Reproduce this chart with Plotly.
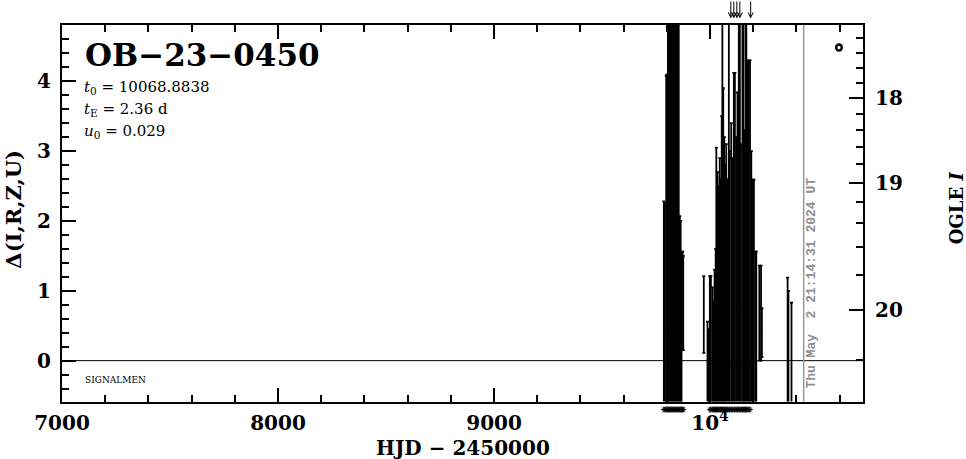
import math
import plotly.graph_objects as go

# ---------------- data ----------------
# Light-curve points: HJD-2450000, and the lower / upper ends of each error bar in Δ
season1_hjd = [9786, 9791, 9797, 9801, 9805, 9809, 9814, 9818, 9823, 9827, 9832, 9837,
               9841, 9846, 9850, 9855, 9860, 9864, 9868, 9873, 9876]
season1_top = [2.28, 2.25, 4.08, 4.10, 5.6, 5.5, 5.8, 5.4, 5.7, 5.6, 5.5, 5.9,
               5.6, 5.5, 5.7, 5.4, 2.07, 2.00, 1.56, 1.56, 1.50]
season1_bot = [-1.5, -1.4, -1.5, -1.6, -1.5, -1.7, -1.5, -1.3, -1.6, -1.4, -1.5, -1.6,
               -1.4, -1.5, -1.7, -1.5, -1.5, -1.3, -1.4, 0.15, 0.15]

season2_hjd = [9971, 9988, 9993, 9999, 10004, 10012, 10017, 10021, 10026, 10029, 10035,
               10040, 10045, 10049, 10054, 10057, 10061, 10066, 10070, 10075, 10080,
               10087, 10091, 10098, 10103, 10110, 10115, 10121, 10127, 10133, 10138,
               10143, 10150, 10154, 10159, 10164, 10168, 10175, 10180, 10185, 10191,
               10198, 10203, 10210, 10214, 10228, 10236, 10240]
season2_top = [1.21, 0.56, 0.45, 1.21, 1.21, 1.05, 0.85, 1.30, 1.60, 3.05, 2.70,
               2.50, 2.90, 2.60, 3.50, 5.50, 3.90, 3.20, 2.80, 3.10, 2.60,
               5.50, 3.00, 3.40, 2.90, 4.12, 4.12, 3.20, 3.84, 5.50, 5.60,
               3.10, 5.60, 5.50, 3.30, 5.60, 5.50, 4.30, 4.30, 4.30, 3.00,
               2.59, 2.59, 1.56, 1.56, 1.36, 1.36, 0.75]
season2_bot = [0.11, -1.5, -1.4, -1.5, -1.5, -1.5, -1.5, -1.5, -1.5, -1.5, -1.5,
               -1.5, -1.5, -1.5, -1.5, -1.5, -1.5, -1.5, -1.5, -1.5, -1.5,
               -1.5, -1.5, -1.5, -1.5, -1.5, -1.5, -1.5, -1.5, -1.5, -1.5,
               -1.5, -1.5, -1.5, -1.5, -1.5, -1.5, -1.5, -1.5, -1.5, -1.5,
               -1.5, -1.5, -1.5, -1.5, 0.00, 0.00, 0.05]

late_hjd = [10359, 10363, 10377]
late_top = [1.19, 1.00, 0.83]
late_bot = [-1.5, -1.5, -1.5]

# epochs marked with asterisks under the axis
marked_hjd = season1_hjd + [h for h in season2_hjd if 9995 < h < 10190]

# points above the plot (arrows)
arrow_hjd = [10096, 10110, 10124, 10138, 10188]

# current-time marker
now_hjd = 10433.39
now_text = "Thu May  2 21:14:31 2024 UT"

# event parameters
event_name = "OB\u221223\u22120450"
t0_val = "10068.8838"
tE_val = "2.36 d"
u0_val = "0.029"

# right-axis magnitude ticks
mag_major = [18, 19, 20]
mag_minor = [17.2, 17.4, 17.6, 17.8, 18.2, 18.4, 18.6, 18.8, 19.2, 19.4, 19.6, 19.8, 20.2]

x_tickvals = [7000, 8000, 9000, 10000]
x_ticktext = ["7000", "8000", "9000", "10<sup>4</sup>"]

X_RANGE = [7000, 10708]
Y_RANGE = [-0.585, 4.806]


def mag_to_delta(m):
    f = 10 ** (-0.4 * (m - 20.0))
    return 2.5 * math.log10(f - 0.6525) + 1.876


FONT = "DejaVu Serif"
fig = go.Figure()

for hjd, top, bot in [(season1_hjd, season1_top, season1_bot),
                      (season2_hjd, season2_top, season2_bot),
                      (late_hjd, late_top, late_bot)]:
    mid = [(a + b) / 2 for a, b in zip(top, bot)]
    err = [(a - b) / 2 for a, b in zip(top, bot)]
    fig.add_trace(go.Scatter(
        x=hjd, y=mid, mode="markers",
        marker=dict(size=1, color="black"),
        error_y=dict(type="data", array=err, visible=True, color="black",
                     thickness=1.8, width=1.5),
        showlegend=False, hoverinfo="skip"))

# asterisks in a thin strip below the axis
fig.add_trace(go.Scatter(
    x=marked_hjd, y=[0.6] * len(marked_hjd), yaxis="y4",
    mode="markers",
    marker=dict(symbol="asterisk-open", size=5, color="black",
                line=dict(color="black", width=0.8)),
    showlegend=False, hoverinfo="skip"))

# dummy traces for right axes
fig.add_trace(go.Scatter(x=[None], y=[None], yaxis="y2", showlegend=False))
fig.add_trace(go.Scatter(x=[None], y=[None], yaxis="y3", showlegend=False))

tickfont = dict(family=FONT, size=20, color="black", weight="bold")
MAIN_DOMAIN = [0.0444, 1.0]

fig.update_layout(
    width=966, height=459,
    margin=dict(l=62, r=103, t=25, b=40),
    paper_bgcolor="white", plot_bgcolor="white",
    showlegend=False,
    xaxis=dict(range=X_RANGE, tickvals=x_tickvals, ticktext=x_ticktext,
               anchor="y",
               ticks="inside", ticklen=14, tickwidth=1.5, tickcolor="black",
               minor=dict(dtick=200, tick0=7000, ticks="inside", ticklen=7,
                          tickwidth=1.5, tickcolor="black", showgrid=False),
               showline=True, linewidth=2, linecolor="black", mirror="ticks",
               showgrid=False, zeroline=False, tickfont=tickfont,
               ticklabelstandoff=2),
    yaxis=dict(range=Y_RANGE, domain=MAIN_DOMAIN, tick0=0, dtick=1,
               ticks="inside", ticklen=14, tickwidth=1.5, tickcolor="black",
               minor=dict(dtick=0.2, tick0=0, ticks="inside", ticklen=7,
                          tickwidth=1.5, tickcolor="black", showgrid=False),
               showline=True, linewidth=2, linecolor="black", mirror=False,
               showgrid=False, zeroline=False, tickfont=tickfont,
               ticklabelstandoff=5),
    yaxis2=dict(range=Y_RANGE, overlaying="y", side="right",
                tickvals=[mag_to_delta(m) for m in mag_major],
                ticktext=[str(m) for m in mag_major],
                ticks="inside", ticklen=14, tickwidth=1.5, tickcolor="black",
                showline=True, linewidth=2, linecolor="black",
                showgrid=False, zeroline=False, tickfont=tickfont,
                ticklabelstandoff=6),
    yaxis3=dict(range=Y_RANGE, overlaying="y", side="right",
                tickvals=[mag_to_delta(m) for m in mag_minor],
                showticklabels=False,
                ticks="inside", ticklen=7, tickwidth=1.5, tickcolor="black",
                showline=False, showgrid=False, zeroline=False),
    yaxis4=dict(domain=[0, 0.04], range=[0, 1], anchor="x", visible=False,
                showgrid=False, zeroline=False),
)

shapes = [
    dict(type="line", xref="x domain", x0=0, x1=1, yref="y", y0=0, y1=0,
         line=dict(color="black", width=1)),
    dict(type="line", xref="x", x0=now_hjd, x1=now_hjd, yref="y domain", y0=0, y1=1,
         line=dict(color="#999999", width=1.5)),
    dict(type="circle", xref="x domain", yref="y domain",
         x0=0.9665, x1=0.9735, y0=0.932, y1=0.948,
         line=dict(color="black", width=2.5)),
]
fig.update_layout(shapes=shapes)

ann = []
ann.append(dict(text=event_name, xref="x domain", yref="y domain", x=0.026, y=0.921,
                xanchor="left", yanchor="middle", showarrow=False,
                font=dict(family=FONT, size=31, color="black", weight="bold")))
for i, (lab, val) in enumerate([("<i>t</i><sub>0</sub>", t0_val),
                                ("<i>t</i><sub>E</sub>", tE_val),
                                ("<i>u</i><sub>0</sub>", u0_val)]):
    ann.append(dict(text=f"{lab} = {val}", xref="x domain", yref="y domain",
                    x=0.025, y=(401.5 - (88 + 22 * i)) / 376,
                    xanchor="left", yanchor="middle", showarrow=False,
                    font=dict(family=FONT, size=15, color="black")))
ann.append(dict(text="SIGNALMEN", xref="x domain", yref="y domain", x=0.026, y=0.057,
                xanchor="left", yanchor="middle", showarrow=False,
                font=dict(family=FONT, size=9, color="black")))
ann.append(dict(text="HJD \u2212 2450000", xref="x domain", yref="y domain", x=0.5,
                y=-0.124, xanchor="center", yanchor="middle", showarrow=False,
                font=dict(family=FONT, size=20, color="black", weight="bold")))
ann.append(dict(text="\u0394(I,R,Z,U)", xref="x domain", yref="y domain", x=-0.061,
                y=0.51, xanchor="center", yanchor="middle", showarrow=False,
                textangle=-90,
                font=dict(family=FONT, size=21, color="black", weight="bold")))
ann.append(dict(text="OGLE <i>I</i>", xref="x domain", yref="y domain", x=1.117,
                y=0.515, xanchor="center", yanchor="middle", showarrow=False,
                textangle=-90,
                font=dict(family=FONT, size=18, color="black", weight="bold")))
ann.append(dict(text=now_text, xref="x", yref="y domain", x=now_hjd, y=0.315,
                xshift=8, xanchor="center", yanchor="middle", showarrow=False,
                textangle=-90,
                font=dict(family="Liberation Mono", size=13, color="#8f8f8f",
                          weight="bold")))
for h in arrow_hjd:
    ann.append(dict(text="", x=h, xref="x", y=1.017, yref="y domain",
                    showarrow=True, ax=0, ay=-19, arrowhead=5, arrowsize=1,
                    arrowwidth=1, arrowcolor="black"))
fig.update_layout(annotations=ann)

fig.write_html("out.html", config={"displayModeBar": False},
               post_script="document.body.style.margin='0';")
